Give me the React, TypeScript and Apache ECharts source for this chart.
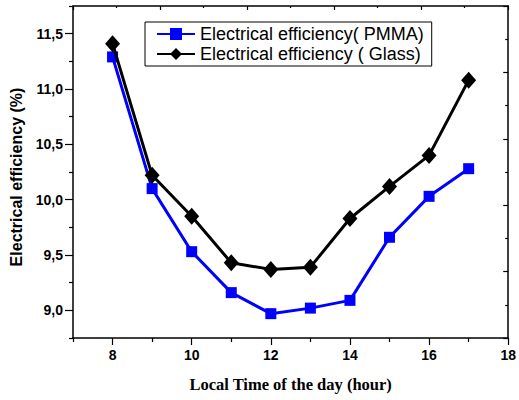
import React, { useEffect, useRef } from "react";
import * as echarts from "echarts";

const hours = [8, 9, 10, 11, 12, 13, 14, 15, 16, 17];
const pmma = [11.29, 10.1, 9.53, 9.16, 8.97, 9.02, 9.09, 9.66, 10.03, 10.28];
const glass = [11.41, 10.22, 9.85, 9.43, 9.37, 9.39, 9.83, 10.12, 10.4, 11.08];
const xMajorTicks = [8, 10, 12, 14, 16, 18];
const xMinorTicks = [7, 9, 11, 13, 15, 17];
const yMajorTicks = [9, 9.5, 10, 10.5, 11, 11.5];
const yMinorTicks = [8.75, 9.25, 9.75, 10.25, 10.75, 11.25, 11.75];
const seriesNames = ["Electrical efficiency( PMMA)", "Electrical efficiency ( Glass)"];

const SANS = "Liberation Sans, Arial, sans-serif";
const SERIF = "Liberation Serif, Times New Roman, serif";

export default function App() {
  const ref = useRef<HTMLDivElement>(null);
  useEffect(() => {
    if (!ref.current) return;
    const chart = echarts.init(ref.current, null, { renderer: "svg" });
    const axisLine = { show: true, lineStyle: { color: "#000", width: 1.5 } };
    const tickStyle = { color: "#000", width: 1.2 };
    chart.setOption({
      animation: false,
      backgroundColor: "#fff",
      grid: { left: 73, right: 8, top: 6, bottom: 62 },
      legend: {
        orient: "vertical",
        left: 145,
        top: 22,
        data: seriesNames,
        borderColor: "#000",
        borderWidth: 1,
        padding: [3, 8, 3, 11],
        itemGap: 2,
        itemWidth: 38,
        itemHeight: 15,
        textStyle: { fontFamily: SANS, fontSize: 18, color: "#000", padding: [0, 0, 0, 0] },
      },
      xAxis: [
        {
          type: "value",
          position: "bottom",
          min: 7,
          max: 18,
          axisLine,
          splitLine: { show: false },
          axisTick: { show: true, customValues: xMajorTicks, length: 7, lineStyle: tickStyle },
          axisLabel: {
            customValues: xMajorTicks,
            margin: 10,
            color: "#000",
            fontFamily: SANS,
            fontWeight: "bold",
            fontSize: 14,
          },
          name: "Local Time of the day (hour)",
          nameLocation: "middle",
          nameGap: 38,
          nameTextStyle: { fontFamily: SERIF, fontWeight: "bold", fontSize: 16.5, color: "#000" },
        },
        {
          type: "value",
          position: "bottom",
          min: 7,
          max: 18,
          axisLine: { show: false },
          splitLine: { show: false },
          axisTick: { show: true, customValues: xMinorTicks, length: 4, lineStyle: tickStyle },
          axisLabel: { show: false },
        },
        {
          type: "value",
          position: "top",
          min: 0,
          max: 10,
          interval: 2,
          axisLine,
          splitLine: { show: false },
          axisTick: { show: true, inside: true, length: 4, lineStyle: tickStyle },
          minorTick: { show: true, splitNumber: 2, length: 2, lineStyle: tickStyle },
          minorSplitLine: { show: false },
          axisLabel: { show: false },
        },
      ],
      yAxis: [
        {
          type: "value",
          position: "left",
          min: 8.75,
          max: 11.75,
          axisLine,
          splitLine: { show: false },
          axisTick: { show: true, customValues: yMajorTicks, length: 8, lineStyle: tickStyle },
          axisLabel: {
            customValues: yMajorTicks,
            margin: 10,
            color: "#000",
            fontFamily: SANS,
            fontWeight: "bold",
            fontSize: 14,
            formatter: (v: number) => v.toFixed(1).replace(".", ","),
          },
          name: "Electrical efficiency (%)",
          nameLocation: "middle",
          nameGap: 47,
          nameTextStyle: {
            fontFamily: SANS,
            fontWeight: "bold",
            fontSize: 16,
            color: "#000",
            padding: [0, 10, 0, 0],
          },
        },
        {
          type: "value",
          position: "left",
          min: 8.75,
          max: 11.75,
          axisLine: { show: false },
          splitLine: { show: false },
          axisTick: { show: true, customValues: yMinorTicks, length: 4, lineStyle: tickStyle },
          axisLabel: { show: false },
        },
        {
          type: "value",
          position: "right",
          min: 0,
          max: 10,
          interval: 2,
          axisLine,
          splitLine: { show: false },
          axisTick: { show: true, inside: true, length: 5, lineStyle: tickStyle },
          minorTick: { show: true, splitNumber: 2, length: 3, lineStyle: tickStyle },
          minorSplitLine: { show: false },
          axisLabel: { show: false },
        },
      ],
      series: [
        {
          name: seriesNames[0],
          type: "line",
          xAxisIndex: 0,
          yAxisIndex: 0,
          data: hours.map((h, i) => [h, pmma[i]]),
          symbol: "rect",
          symbolSize: 11,
          color: "#0000ff",
          lineStyle: { width: 3, color: "#0000ff" },
          itemStyle: { color: "#0000ff" },
          z: 2,
        },
        {
          name: seriesNames[1],
          type: "line",
          xAxisIndex: 0,
          yAxisIndex: 0,
          data: hours.map((h, i) => [h, glass[i]]),
          symbol: "diamond",
          symbolSize: [15, 17],
          color: "#000",
          lineStyle: { width: 3, color: "#000" },
          itemStyle: { color: "#000" },
          z: 3,
        },
      ],
    });
    return () => chart.dispose();
  }, []);
  return <div ref={ref} style={{ width: 519, height: 400, position: "absolute", left: 0, top: 0 }} />;
}
